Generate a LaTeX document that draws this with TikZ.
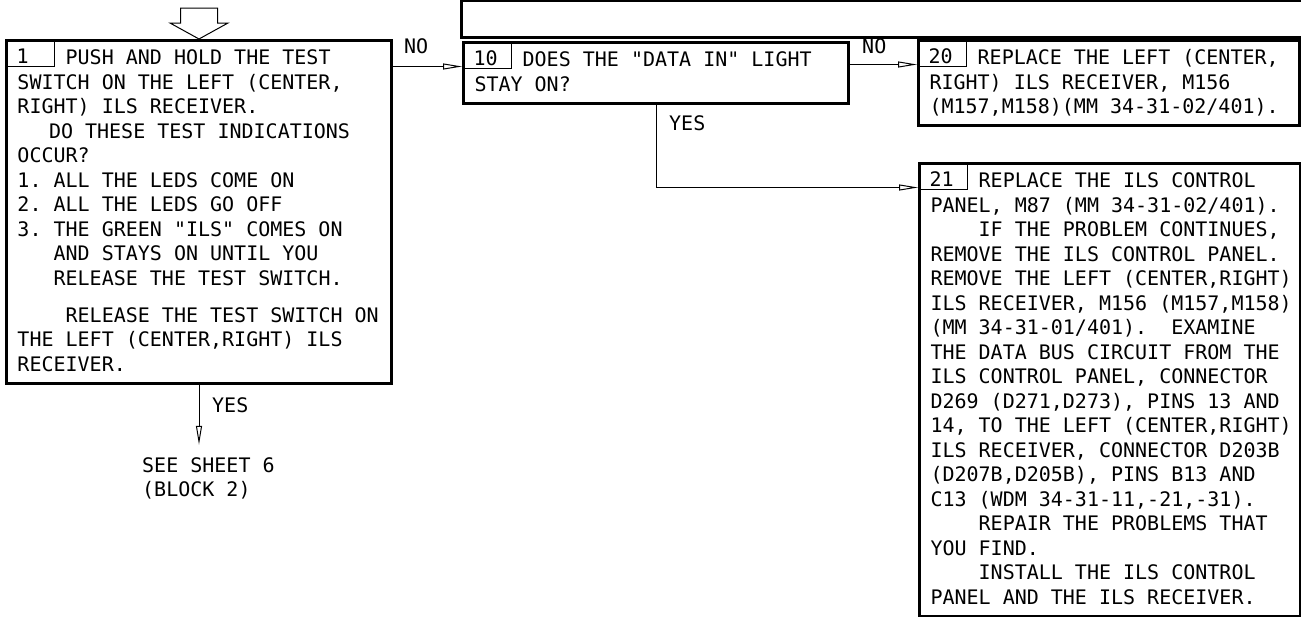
\documentclass[tikz,border=0pt]{standalone}
\usepackage{fontspec}
\setmonofont{DejaVu Sans Mono}
\usetikzlibrary{arrows.meta}
\newcommand{\chartfont}{\ttfamily\fontsize{20}{24.5}\selectfont}
\newcommand{\monospaces}{\spaceskip=\fontcharwd\font`0\relax
	\xspaceskip=\fontcharwd\font`0\relax}
\newcommand{\indchars}[1]{\hspace*{#1\fontcharwd\font`0}}

\begin{document}
\begin{tikzpicture}[
			x=1pt, y=-1pt,
			block/.style={
				draw,
				line width=3pt,
				anchor=north west,
				align=left,
				inner xsep=6pt,
				inner ysep=5pt,
				text height=19pt,
				font=\chartfont,
				execute at begin node={\leftskip=5pt\monospaces},
				execute at end node={\strut}
			},
			numbox/.style={
				draw,
				line width=1pt,
				anchor=north west,
				align=left,
				text width=27pt,
				inner xsep=11pt,
				inner ysep=2pt,
				text height=22pt,
				text depth=1pt,
				font=\chartfont
			},
			note/.style={
				anchor=base west,
				align=left,
				text width=150pt,
				inner xsep=0pt,
				inner ysep=8pt,
				text height=19pt,
				font=\chartfont,
				execute at begin node={\monospaces}
			},
			answer/.style={
				anchor=base west,
				inner sep=0pt,
				font=\chartfont
			},
			entry/.style={
				draw,
				line width=1pt,
				fill=white
			},
			flow/.style={
				-{Triangle[open,length=19pt,width=6pt]},
				line width=1pt,
				draw
			}
			]
			
			\useasboundingbox (0,0) rectangle (1301,616);
			
			% Banner
			\draw[line width=3pt] (1320,0.5) -- (461,0.5) -- (461,37) -- (1320,37);
			
			% Test switch
			\node[block,text width=373pt] (test) at (5,39) {%
				\indchars{4}PUSH AND HOLD THE TEST\\
				SWITCH ON THE LEFT (CENTER,\\
				RIGHT) ILS RECEIVER.\\
				\hspace*{31.5pt}DO THESE TEST INDICATIONS\\
				OCCUR?\\
				1. ALL THE LEDS COME ON\\
				2. ALL THE LEDS GO OFF\\
				3. THE GREEN "ILS" COMES ON\\
				\indchars{3}AND STAYS ON UNTIL YOU\\
				\indchars{3}RELEASE THE TEST SWITCH.\\[12.5pt]
				\indchars{4}RELEASE THE TEST SWITCH ON\\
				THE LEFT (CENTER,RIGHT) ILS\\
				RECEIVER.
			};
			\node[numbox] (testnum) at (test.north west) {1};
			
			% Data in light
			\node[block,text width=373pt] (datain) at (462,41) {%
				\indchars{4}DOES THE "DATA IN" LIGHT\\
				STAY ON?
			};
			\node[numbox] (datainnum) at (datain.north west) {10};
			
			% Replace receiver
			\node[block,text width=369pt] (rcvr) at (917,39) {%
				\indchars{4}REPLACE THE LEFT (CENTER,\\
				RIGHT) ILS RECEIVER, M156\\
				(M157,M158)(MM 34-31-02/401).
			};
			\node[numbox] (rcvrnum) at (rcvr.north west) {20};
			
			% Replace control panel
			\node[block,text width=369pt] (panel) at (918,162) {%
				\indchars{4}REPLACE THE ILS CONTROL\\
				PANEL, M87 (MM 34-31-02/401).\\
				\indchars{4}IF THE PROBLEM CONTINUES,\\
				REMOVE THE ILS CONTROL PANEL.\\
				REMOVE THE LEFT (CENTER,RIGHT)\\
				ILS RECEIVER, M156 (M157,M158)\\
				(MM 34-31-01/401).\ \ EXAMINE\\
				THE DATA BUS CIRCUIT FROM THE\\
				ILS CONTROL PANEL, CONNECTOR\\
				D269 (D271,D273), PINS 13 AND\\
				14, TO THE LEFT (CENTER,RIGHT)\\
				ILS RECEIVER, CONNECTOR D203B\\
				(D207B,D205B), PINS B13 AND\\
				C13 (WDM 34-31-11,-21,-31).\\
				\indchars{4}REPAIR THE PROBLEMS THAT\\
				YOU FIND.\\
				\indchars{4}INSTALL THE ILS CONTROL\\
				PANEL AND THE ILS RECEIVER.
			};
			\node[numbox] (panelnum) at (panel.north west) {21};
			
			% Next sheet
			\node[note] (sheet) at (142,472) {%
				SEE SHEET 6\\
				(BLOCK 2)
			};
			
			% Entry arrow
			\draw[entry,shift={(test.north)}]
			(0,0) -- (29,-16) -- (18.5,-16) -- (18.5,-31)
			-- (-18.5,-31) -- (-18.5,-16) -- (-29,-16) -- cycle;
			
			% Answer arrows
			\draw[flow]
			(test.east |- datain.base west) -- (datain.base west);
			
			\draw[flow]
			(datain.east |- rcvr.base west) -- (rcvr.base west);
			
			\draw[flow]
			(datain.south) |- (panel.base west);
			
			\draw[flow]
			(test.south) -- (test.south |- sheet.north);
			
			\node[answer] (testno) at (404,53) {NO};
			\node[answer] (datainno) at (862,53) {NO};
			\node[answer] (datainyes) at (669,130) {YES};
			\node[answer] (testyes) at (212,412) {YES};
			
		\end{tikzpicture}
\end{document}
